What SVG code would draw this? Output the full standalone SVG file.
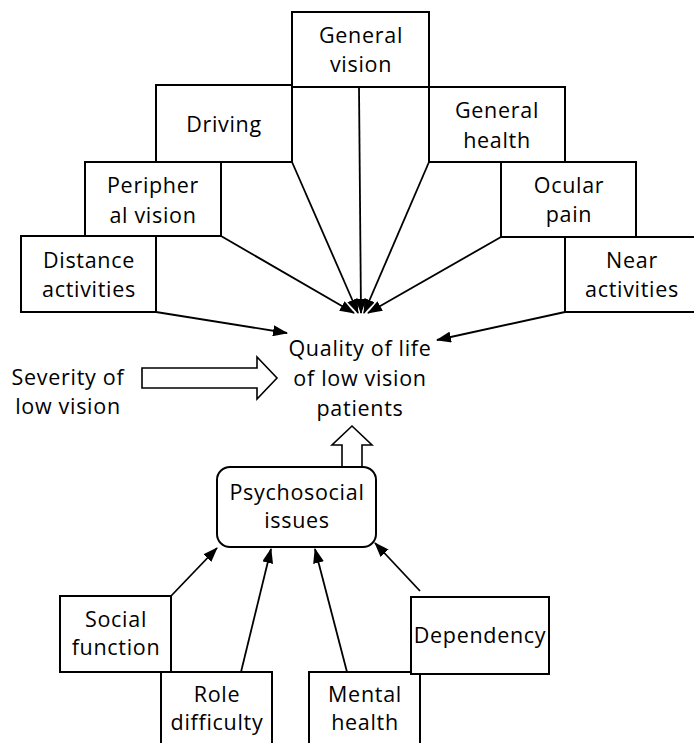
<svg xmlns="http://www.w3.org/2000/svg" width="694" height="743" viewBox="0 0 694 743">
<style>
.box{fill:#fff;stroke:#000;stroke-width:2}
.t{font-family:"Open Sans","Noto Sans",sans-serif;font-size:21.5px;letter-spacing:0.7px;fill:#000;text-anchor:middle}
.c{stroke:#000;stroke-width:1.8;fill:none}
.blk{fill:#fff;stroke:#000;stroke-width:1.6}
</style>
<defs>
<marker id="ah" markerUnits="userSpaceOnUse" markerWidth="15" markerHeight="11" refX="14" refY="5.5" orient="auto">
<path d="M0,0 L15,5.5 L0,11 Z" fill="#000"/>
</marker>
</defs>
<rect width="694" height="743" fill="#fff"/>
<g id="connectors">
<line class="c" x1="156" y1="312" x2="287" y2="333" marker-end="url(#ah)"/>
<line class="c" x1="221" y1="236" x2="354" y2="313" marker-end="url(#ah)"/>
<line class="c" x1="292" y1="162" x2="358" y2="313" marker-end="url(#ah)"/>
<line class="c" x1="359" y1="87" x2="361" y2="313" marker-end="url(#ah)"/>
<line class="c" x1="429" y1="162" x2="364" y2="313" marker-end="url(#ah)"/>
<line class="c" x1="501" y1="237" x2="368" y2="313" marker-end="url(#ah)"/>
<line class="c" x1="565" y1="312" x2="437" y2="340" marker-end="url(#ah)"/>
<line class="c" x1="171" y1="596" x2="217" y2="548" marker-end="url(#ah)"/>
<line class="c" x1="241" y1="672" x2="271" y2="549" marker-end="url(#ah)"/>
<line class="c" x1="347" y1="672" x2="315" y2="549" marker-end="url(#ah)"/>
<line class="c" x1="420" y1="591" x2="375" y2="543" marker-end="url(#ah)"/>
<polygon class="blk" points="142,368 257,368 257,357 277,378 257,399 257,388 142,388"/>
<polygon class="blk" points="342,467 342,445 332,445 352,426 372,445 362,445 362,467"/>
</g>
<g id="general-vision"><rect class="box" x="292" y="12" width="137" height="75"/><text class="t" x="361" y="43">General</text><text class="t" x="361" y="72">vision</text></g>
<g id="driving"><rect class="box" x="156" y="85" width="136" height="77"/><text class="t" x="224" y="132">Driving</text></g>
<g id="peripheral-vision"><rect class="box" x="85" y="162" width="136" height="74"/><text class="t" x="153" y="193">Peripher</text><text class="t" x="153" y="223">al vision</text></g>
<g id="distance-activities"><rect class="box" x="21" y="236" width="135" height="76"/><text class="t" x="89" y="268">Distance</text><text class="t" x="89" y="297">activities</text></g>
<g id="general-health"><rect class="box" x="429" y="87" width="136" height="75"/><text class="t" x="497" y="118">General</text><text class="t" x="497" y="148">health</text></g>
<g id="ocular-pain"><rect class="box" x="501" y="162" width="135" height="75"/><text class="t" x="569" y="193">Ocular</text><text class="t" x="569" y="222">pain</text></g>
<g id="near-activities"><rect class="box" x="565" y="237" width="140" height="75"/><text class="t" x="632" y="268">Near</text><text class="t" x="632" y="297">activities</text></g>
<g id="quality-of-life"><text class="t" x="360" y="356">Quality of life</text><text class="t" x="360" y="386">of low vision</text><text class="t" x="360" y="416">patients</text></g>
<g id="severity"><text class="t" x="68" y="385">Severity of</text><text class="t" x="68" y="414">low vision</text></g>
<g id="psychosocial"><rect class="box" x="217" y="467" width="159" height="80" rx="13"/><text class="t" x="297" y="500">Psychosocial</text><text class="t" x="297" y="528">issues</text></g>
<g id="social-function"><rect class="box" x="60" y="596" width="111" height="76"/><text class="t" x="116" y="627">Social</text><text class="t" x="116" y="655">function</text></g>
<g id="role-difficulty"><rect class="box" x="161" y="672" width="111" height="90"/><text class="t" x="217" y="702">Role</text><text class="t" x="217" y="730">difficulty</text></g>
<g id="mental-health"><rect class="box" x="309" y="672" width="111" height="90"/><text class="t" x="365" y="702">Mental</text><text class="t" x="365" y="730">health</text></g>
<g id="dependency"><rect class="box" x="411" y="597" width="138" height="77"/><text class="t" x="480" y="643">Dependency</text></g>
</svg>
